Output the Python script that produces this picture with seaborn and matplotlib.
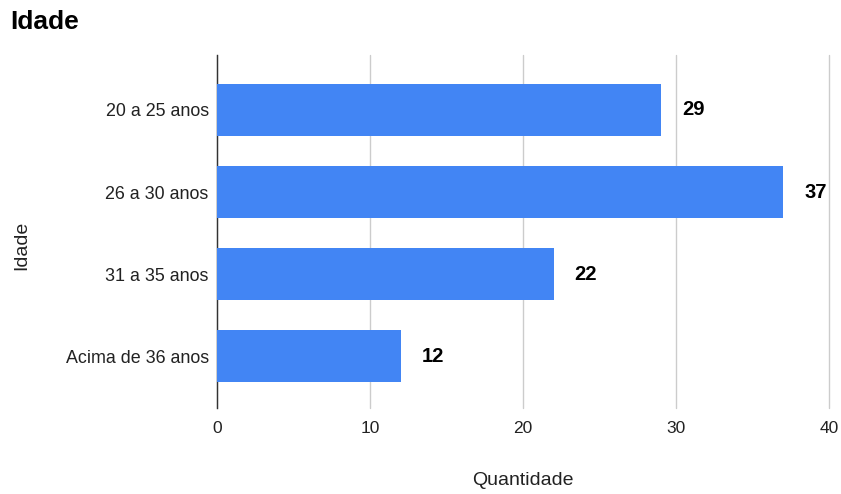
import pandas as pd
import matplotlib.pyplot as plt
import seaborn as sns

faixas = ["20 a 25 anos", "26 a 30 anos", "31 a 35 anos", "Acima de 36 anos"]
quantidade = [29, 37, 22, 12]

df = pd.DataFrame({"Idade": faixas, "Quantidade": quantidade})

sns.set_theme(style="white")
plt.rcParams['font.family'] = ['Liberation Sans', 'DejaVu Sans']

fig = plt.figure(figsize=(8.41, 4.94), dpi=100)
ax = fig.add_axes([0.258, 0.174, 0.728, 0.715])

sns.barplot(data=df, x="Quantidade", y="Idade", color="#4285F4",
            saturation=1, width=0.63, linewidth=0, ax=ax, zorder=3)

ax.set_xlim(0, 40)
ax.set_ylim(3.63, -0.67)
ax.set_xticks([0, 10, 20, 30, 40])
ax.grid(axis='x', color='#cccccc', linewidth=1, zorder=0)
for gl in ax.get_xgridlines():
    gl.set_clip_on(False)
ax.tick_params(axis='y', labelsize=12.9, colors='#222222', length=0, pad=6)
ax.tick_params(axis='x', labelsize=12.5, colors='#222222', length=0, pad=9)

for s in ['top', 'right', 'bottom']:
    ax.spines[s].set_visible(False)
ax.spines['left'].set_color('#333333')
ax.spines['left'].set_linewidth(1)

for i, v in enumerate(quantidade):
    ax.text(v + 1.37, i, str(v), va='center', ha='left',
            fontsize=14.5, fontweight='bold', color='#000000')

ax.set_xlabel("Quantidade", fontsize=14, color='#222222')
ax.xaxis.set_label_coords(0.5, -0.18)
ax.set_ylabel("Idade", fontsize=14, color='#222222')
ax.yaxis.set_label_coords(-0.305, 0.46)
fig.text(0.012, 0.955, "Idade", fontsize=19, fontweight='bold', color='#000000',
         va='center', ha='left')

fig.savefig("out.png", dpi=100)
